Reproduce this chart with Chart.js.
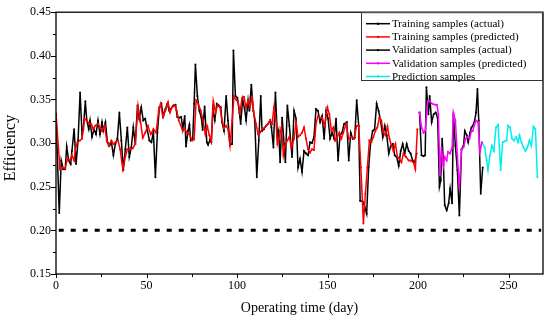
<!DOCTYPE html>
<html><head><meta charset="utf-8">
<script src="https://cdn.jsdelivr.net/npm/chart.js@4/dist/chart.umd.min.js"></script>
<style>html,body{margin:0;padding:0;background:#fff}#wrap{width:550px;height:324px}</style>
</head><body><div id="wrap"><canvas id="c" width="550" height="324"></canvas></div>
<script>
// ---- data ----
const trainActualDays = [0,1.8,2.9,4.0,5.1,5.9,7.0,8.1,8.8,10.0,11.1,12.2,13.3,14.4,15.1,16.2,17.0,18.1,18.8,19.9,21.0,22.1,23.2,24.3,25.4,26.1,27.3,28.4,29.5,30.6,31.7,32.8,33.9,35.0,36.1,37.2,38.3,39.4,40.5,41.6,42.7,43.8,45.0,46.0,47.1,48.2,49.3,50.5,51.6,52.7,53.8,54.9,56.0,57.1,58.2,59.3,60.4,61.5,62.6,64.8,66.0,67.0,68.1,69.2,70.0,71.1,71.8,72.9,73.7,74.4,75.5,76.3,77.0,78.1,79.2,80.3,81.0,82.1,83.3,84.0,85.1,85.8,86.6,87.7,88.8,89.9,91.0,91.7,92.8,94.0,95.0,96.1,97.3,98.0,99.1,100.2,101.3,102.0,103.1,104.2,105.0,106.1,106.8,107.9,109.0,109.8,110.9,112.0,113.1,113.8,114.9,116.0,117.1,118.2,119.0,120.1,121.2,122.3,123.0,123.8,124.9,126.0,126.7,127.8,128.9,130.4,131.5,132.6,133.7,134.8,135.9,137.0,138.1,139.2,140.3,141.4,142.5,143.6,144.7,145.9,147.0,148.1,149.2,150.3,151.4,152.5,153.6,154.7,155.8,156.9,158.0,159.1,160.6,161.7,162.8,163.9,165.0,166.1,167.2,168.0,169.4,170.5,171.6,172.7,173.8,174.9,176.0,177.1,178.2,179.4,180.5,181.6,182.7,183.8,184.9,186.0,187.1,188.2,189.3,190.4,191.5,192.6,193.7,194.8,195.9,197.0,198.1,199.2];
const trainActual = [0.333,0.220,0.280,0.270,0.270,0.296,0.280,0.276,0.291,0.316,0.276,0.303,0.358,0.310,0.316,0.348,0.326,0.316,0.326,0.307,0.316,0.310,0.326,0.310,0.324,0.314,0.324,0.301,0.297,0.301,0.286,0.299,0.305,0.335,0.303,0.269,0.293,0.318,0.284,0.295,0.318,0.299,0.343,0.328,0.341,0.326,0.328,0.314,0.303,0.301,0.312,0.261,0.312,0.341,0.345,0.331,0.339,0.345,0.337,0.343,0.344,0.330,0.329,0.330,0.316,0.331,0.296,0.314,0.321,0.303,0.304,0.345,0.390,0.354,0.337,0.329,0.315,0.342,0.301,0.298,0.304,0.301,0.339,0.326,0.345,0.343,0.341,0.324,0.314,0.354,0.326,0.298,0.299,0.406,0.354,0.352,0.335,0.322,0.350,0.339,0.326,0.349,0.337,0.367,0.337,0.326,0.261,0.303,0.354,0.314,0.316,0.320,0.322,0.326,0.318,0.295,0.358,0.307,0.314,0.278,0.329,0.299,0.278,0.343,0.320,0.284,0.337,0.328,0.272,0.282,0.267,0.291,0.288,0.286,0.301,0.300,0.307,0.339,0.337,0.324,0.331,0.305,0.337,0.328,0.305,0.312,0.305,0.328,0.280,0.309,0.312,0.322,0.324,0.280,0.312,0.305,0.306,0.349,0.320,0.234,0.233,0.227,0.219,0.272,0.301,0.314,0.316,0.345,0.337,0.324,0.307,0.320,0.309,0.288,0.297,0.299,0.286,0.284,0.274,0.291,0.299,0.288,0.299,0.291,0.288,0.280,0.278,0.288];

const trainPredDays = [0,2.2,3.3,5.1,6.3,7.7,8.8,10.0,10.7,11.8,13.3,14.4,15.8,17.0,18.4,19.5,20.6,21.7,23.2,24.3,25.4,26.9,28.0,29.1,30.6,31.7,32.8,34.3,35.4,36.9,38.3,39.4,40.9,42.4,43.8,45.3,46.4,47.9,49.3,50.8,52.3,53.8,55.3,56.7,57.8,59.0,60.4,61.9,63.0,64.1,65.6,66.7,67.8,70.0,71.1,72.2,73.7,75.2,76.3,77.4,78.5,80.0,81.4,82.5,83.6,84.7,85.8,86.9,88.1,89.2,90.6,91.7,92.8,94.0,95.0,96.1,97.3,98.3,99.4,100.6,101.6,102.8,103.8,105.0,106.1,107.2,108.3,109.4,110.5,111.6,112.7,113.8,114.9,116.0,117.1,118.2,119.3,120.4,121.5,122.3,123.4,124.5,125.6,126.7,127.8,128.9,130.0,131.5,132.6,133.7,134.8,135.9,137.0,138.1,139.2,140.3,141.4,142.5,143.6,144.7,145.9,147.0,148.4,149.9,151.0,152.1,153.2,154.3,155.4,156.5,157.6,158.7,160.2,161.7,163.2,164.6,166.1,167.2,168.4,169.8,170.9,172.0,173.1,174.2,175.3,176.4,177.5,178.6,179.7,180.8,182.0,183.1,184.2,185.3,186.4,187.5,188.6,189.7,190.8,191.9,193.4,194.8,195.9,197.4,198.5,199.6];
const trainPred = [0.334,0.270,0.272,0.271,0.282,0.280,0.286,0.280,0.293,0.301,0.303,0.305,0.328,0.326,0.322,0.322,0.316,0.320,0.322,0.318,0.314,0.320,0.303,0.297,0.303,0.299,0.301,0.303,0.293,0.270,0.284,0.293,0.293,0.294,0.299,0.343,0.329,0.306,0.312,0.320,0.310,0.316,0.312,0.337,0.345,0.330,0.337,0.347,0.335,0.341,0.343,0.337,0.326,0.314,0.317,0.312,0.310,0.303,0.304,0.349,0.345,0.337,0.324,0.310,0.319,0.309,0.302,0.348,0.335,0.343,0.341,0.326,0.317,0.320,0.316,0.297,0.326,0.354,0.350,0.347,0.335,0.352,0.353,0.341,0.349,0.341,0.352,0.333,0.322,0.310,0.312,0.316,0.317,0.320,0.322,0.326,0.322,0.341,0.326,0.299,0.307,0.318,0.286,0.299,0.303,0.307,0.295,0.305,0.324,0.307,0.309,0.312,0.318,0.305,0.293,0.289,0.293,0.292,0.322,0.331,0.329,0.329,0.320,0.341,0.333,0.314,0.318,0.303,0.307,0.312,0.305,0.312,0.322,0.305,0.307,0.305,0.320,0.320,0.272,0.208,0.242,0.272,0.303,0.301,0.307,0.314,0.318,0.329,0.326,0.312,0.309,0.319,0.305,0.297,0.291,0.299,0.284,0.282,0.278,0.288,0.284,0.280,0.280,0.278,0.270,0.316];

const valActualDays = [200.8,201.9,203.0,203.9,204.6,205.7,206.4,207.5,208.6,209.7,210.8,211.8,212.5,213.3,214.0,214.7,215.8,216.9,217.7,218.8,219.5,220.6,221.7,222.8,224.0,225.1,225.8,226.9,227.7,228.7,229.5,230.2,231.3,232.0,232.8,233.5,234.6,235.7];
const valActual = [0.335,0.286,0.285,0.286,0.364,0.333,0.354,0.324,0.333,0.335,0.329,0.250,0.257,0.305,0.276,0.229,0.223,0.231,0.248,0.231,0.333,0.297,0.269,0.217,0.293,0.297,0.314,0.309,0.301,0.312,0.318,0.320,0.326,0.335,0.362,0.326,0.242,0.272];

const valPredDays = [200.8,201.9,203.0,203.9,205.4,206.4,207.9,209.4,210.4,211.2,212.1,212.9,214.0,214.7,215.8,216.5,217.7,218.8,219.5,220.6,221.7,222.8,224.0,225.1,226.2,227.3,228.4,229.5,230.2,231.0,232.0,233.1,234.2,235.3];
const valPred = [0.335,0.318,0.312,0.314,0.348,0.348,0.345,0.344,0.344,0.333,0.263,0.295,0.274,0.284,0.280,0.290,0.288,0.295,0.335,0.326,0.286,0.248,0.293,0.295,0.305,0.307,0.305,0.314,0.314,0.320,0.326,0.324,0.290,0.301];

const forecastDays = [235.3,236.8,237.9,238.6,239.7,240.8,241.9,243.0,244.2,245.6,246.7,247.8,248.9,249.7,250.8,251.9,253.0,254.1,255.2,256.0,257.1,258.2,259.3,260.4,261.5,262.6,263.7,264.8,265.9];
const forecast = [0.301,0.295,0.280,0.269,0.286,0.297,0.291,0.318,0.321,0.269,0.301,0.302,0.303,0.320,0.318,0.305,0.303,0.307,0.301,0.309,0.301,0.295,0.291,0.295,0.303,0.297,0.319,0.316,0.261];

const thresholdValue = 0.20;
const thresholdSpan = [1.5, 268];

const seriesLabels = ['Training samples (actual)','Training samples (predicted)','Validation samples (actual)','Validation samples (predicted)','Prediction samples'];
const seriesColors = ['#000000','#ff0000','#000000','#ff00ff','#00eeee'];
const xTickValues = [0,50,100,150,200,250];
const yTickValues = [0.15,0.20,0.25,0.30,0.35,0.40,0.45];
const xTitle = 'Operating time (day)';
const yTitle = 'Efficiency';

// ---- chart ----
const FONT = "'Liberation Serif','Times New Roman',serif";
const pts = (xs, ys) => xs.map((d, i) => ({x: d, y: ys[i]}));
const seriesData = [
  pts(trainActualDays, trainActual),
  pts(trainPredDays, trainPred),
  pts(valActualDays, valActual),
  pts(valPredDays, valPred),
  pts(forecastDays, forecast)
];
const drawOrder = [3, 1, 4, 2, 2];
const datasets = seriesData.map((d, i) => ({
  label: seriesLabels[i], data: d,
  borderColor: seriesColors[i], backgroundColor: seriesColors[i],
  borderWidth: 1.5, pointRadius: 1, pointHoverRadius: 1, pointBorderWidth: 0,
  tension: 0, order: drawOrder[i]
}));
datasets.push({
  label: 'threshold', data: thresholdSpan.map(d => ({x: d, y: thresholdValue})),
  borderColor: '#000', borderWidth: 3, borderDash: [5, 7], pointRadius: 0, order: 10
});

const framePlugin = {
  id: 'frame',
  afterDraw(chart) {
    const {ctx, chartArea: a, scales: {x, y}} = chart;
    ctx.save();
    ctx.strokeStyle = '#000';
    ctx.lineWidth = 1.3;
    ctx.strokeRect(a.left, a.top, a.right - a.left, a.bottom - a.top);
    ctx.lineWidth = 1;
    ctx.beginPath();
    const yStep = yTickValues[1] - yTickValues[0];
    yTickValues.forEach((v, i) => {
      const py = Math.round(y.getPixelForValue(v)) + 0.5;
      ctx.moveTo(a.left, py); ctx.lineTo(a.left - 5, py);
      if (i < yTickValues.length - 1) {
        const pm = Math.round(y.getPixelForValue(v + yStep / 2)) + 0.5;
        ctx.moveTo(a.left, pm); ctx.lineTo(a.left - 3, pm);
      }
    });
    const xStep = xTickValues[1] - xTickValues[0];
    xTickValues.forEach(v => {
      const px = Math.round(x.getPixelForValue(v)) + 0.5;
      ctx.moveTo(px, a.bottom); ctx.lineTo(px, a.bottom + 4);
      if (v + xStep / 2 <= x.max) {
        const pm = Math.round(x.getPixelForValue(v + xStep / 2)) + 0.5;
        ctx.moveTo(pm, a.bottom); ctx.lineTo(pm, a.bottom + 3);
      }
    });
    ctx.stroke();

    // y axis title
    ctx.save();
    ctx.translate(11, 148);
    ctx.rotate(-Math.PI / 2);
    ctx.font = '16px ' + FONT;
    ctx.fillStyle = '#000';
    ctx.textAlign = 'center';
    ctx.textBaseline = 'middle';
    ctx.fillText(yTitle, 0, 0);
    ctx.restore();

    // legend box
    const L = 361, T = a.top, R = a.right, B = 80;
    ctx.fillStyle = '#fff';
    ctx.fillRect(L, T, R - L, B - T);
    ctx.strokeStyle = '#333';
    ctx.lineWidth = 1;
    ctx.strokeRect(L + 0.5, T + 0.5, R - L - 1, B - T);
    ctx.font = '11px ' + FONT;
    ctx.textBaseline = 'middle';
    ctx.textAlign = 'left';
    seriesLabels.forEach((lab, i) => {
      const yy = T + 11.5 + i * 13.2;
      ctx.strokeStyle = seriesColors[i];
      ctx.lineWidth = 1.5;
      ctx.beginPath(); ctx.moveTo(366, yy); ctx.lineTo(390, yy); ctx.stroke();
      ctx.fillStyle = seriesColors[i];
      ctx.beginPath(); ctx.arc(378, yy, 1.2, 0, Math.PI * 2); ctx.fill();
      ctx.fillStyle = '#000';
      ctx.fillText(lab, 392, yy + 0.5);
    });
    ctx.restore();
  }
};

new Chart(document.getElementById('c'), {
  type: 'line',
  data: {datasets},
  options: {
    responsive: false, animation: false, devicePixelRatio: 1,
    layout: {padding: {top: 11, right: 7, left: 0, bottom: 0}},
    plugins: {legend: {display: false}, tooltip: {enabled: false}},
    scales: {
      x: {
        type: 'linear', min: 0, max: 269,
        afterFit(s) { s.height = 50; },
        afterBuildTicks(s) { s.ticks = xTickValues.map(v => ({value: v})); },
        grid: {display: false, drawTicks: false},
        border: {display: false},
        ticks: {color: '#000', font: {family: FONT, size: 12}, padding: 5, maxRotation: 0, autoSkip: false},
        title: {display: true, text: xTitle, color: '#000', font: {family: FONT, size: 14}, padding: {top: 0, bottom: 7}}
      },
      y: {
        type: 'linear', min: 0.15, max: 0.45,
        afterFit(s) { s.width = 56; },
        afterBuildTicks(s) { s.ticks = yTickValues.map(v => ({value: v})); },
        grid: {display: false, drawTicks: false},
        border: {display: false},
        ticks: {color: '#000', font: {family: FONT, size: 12}, padding: 5, callback: v => Number(v).toFixed(2)},
        title: {display: false, text: yTitle}
      }
    }
  },
  plugins: [framePlugin]
});
</script>
</body></html>
